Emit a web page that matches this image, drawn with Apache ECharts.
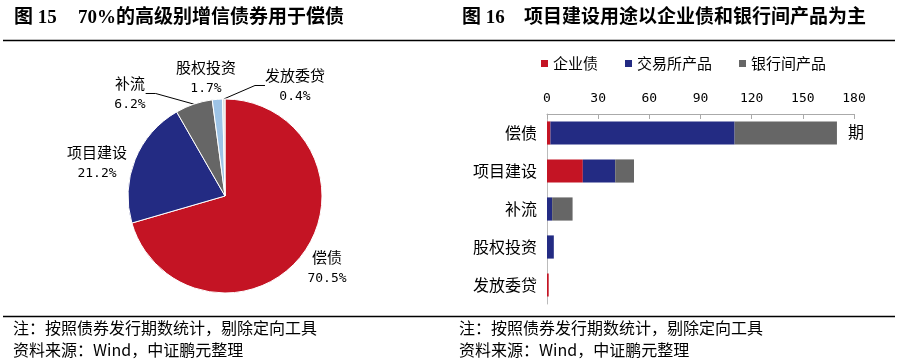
<!DOCTYPE html>
<html><head><meta charset="utf-8">
<script src="https://cdn.jsdelivr.net/npm/echarts@6/dist/echarts.min.js"></script>
<style>html,body{margin:0;padding:0;background:#fff}#c{width:898px;height:364px}</style>
</head><body><div id="c"></div>
<script>
// ---- data ----
const pieNames = ['偿债', '项目建设', '补流', '股权投资', '发放委贷'];
const pieShares = [70.5, 21.2, 6.2, 1.7, 0.4];
const barCategories = ['偿债', '项目建设', '补流', '股权投资', '发放委贷'];
const seriesNames = ['企业债', '交易所产品', '银行间产品'];
const enterpriseBond = [2, 21, 0, 0, 1];
const exchangeProduct = [108, 19, 3, 4, 0];
const interbankProduct = [60, 11, 12, 0, 0];
const xAxisMin = 0, xAxisMax = 180, xAxisStep = 30;
const leftTitleNo = '图 15', leftTitle = '70%的高级别增信债券用于偿债';
const rightTitleNo = '图 16', rightTitle = '项目建设用途以企业债和银行间产品为主';
const noteLine = '注：按照债券发行期数统计，剔除定向工具';
const sourceLine = '资料来源：Wind，中证鹏元整理';
const unitLabel = '期';

// ---- style ----
const RED = '#C41424', NAVY = '#232B83', GRAY = '#666666', LBLUE = '#9DC3E6', LGRAY = '#D9D9D9';
const pieColors = [RED, NAVY, GRAY, LBLUE, LGRAY];
const barColors = [RED, NAVY, GRAY];
const CJK = "'Noto Sans CJK SC', sans-serif";
const MONO = "'DejaVu Sans Mono', 'Noto Sans CJK SC', monospace";
const TITLEF = "'Liberation Serif', 'Noto Sans CJK SC', serif";
const labelPos = [[327, 268], [97, 163], [130, 94], [206, 78], [295, 86]];
const showLine = [false, false, true, false, true];

const chart = echarts.init(document.getElementById('c'), null, {renderer: 'canvas'});
const barData = [enterpriseBond, exchangeProduct, interbankProduct];

const option = {
  animation: false,
  backgroundColor: '#fff',
  legend: {
    data: seriesNames, left: 536, top: 51, itemWidth: 7, itemHeight: 7, itemGap: 27,
    icon: 'rect', textStyle: {fontSize: 15, fontFamily: CJK, color: '#000'}
  },
  grid: {left: 547, right: 44, top: 114, bottom: 60},
  xAxis: {
    type: 'value', position: 'top', min: xAxisMin, max: xAxisMax, interval: xAxisStep,
    axisLine: {show: true, lineStyle: {color: '#aaa'}},
    axisTick: {show: true, inside: true, length: 5, lineStyle: {color: '#aaa'}},
    splitLine: {show: false},
    axisLabel: {fontSize: 13, fontFamily: MONO, color: '#000', margin: 9}
  },
  yAxis: {
    type: 'category', inverse: true, data: barCategories, z: 0,
    axisLine: {show: true, lineStyle: {color: '#bbb', width: 1}},
    axisTick: {show: false},
    axisLabel: {fontSize: 16, fontFamily: CJK, color: '#000', margin: 10}
  },
  series: [
    {
      type: 'pie', center: [225, 196], radius: 97, startAngle: 90, clockwise: true,
      data: pieNames.map((n, i) => ({
        name: n, value: pieShares[i],
        itemStyle: {color: pieColors[i]},
        labelLine: {show: showLine[i]}
      })),
      itemStyle: {borderColor: '#fff', borderWidth: 1},
      label: {
        show: true, position: 'outside',
        formatter: p => '{n|' + p.name + '}\n{v|' + p.value.toFixed(1) + '%}',
        rich: {
          n: {fontSize: 15, fontFamily: CJK, color: '#000', lineHeight: 22, align: 'center'},
          v: {fontSize: 13, fontFamily: MONO, color: '#000', lineHeight: 22, align: 'center'}
        }
      },
      labelLine: {lineStyle: {color: '#000', width: 1}, length: 10, length2: 10},
      labelLayout: params => {
        const p = labelPos[params.dataIndex];
        return {x: p[0], y: p[1], align: 'center', verticalAlign: 'middle'};
      },
      emphasis: {disabled: true}
    }
  ].concat(seriesNames.map((s, k) => ({
    type: 'bar', name: s, stack: 'total', data: barData[k], barWidth: '61%', z: 5,
    itemStyle: {color: barColors[k], borderWidth: 0},
    emphasis: {disabled: true}
  }))),
  graphic: [
    {type: 'line', shape: {x1: 3, y1: 40.5, x2: 895, y2: 40.5}, style: {stroke: '#000', lineWidth: 1.5}},
    {type: 'line', shape: {x1: 3, y1: 316.5, x2: 895, y2: 316.5}, style: {stroke: '#000', lineWidth: 1.5}},
    {type: 'text', left: 14, top: 9, style: {text: leftTitleNo, font: 'bold 19px ' + TITLEF, fill: '#000'}},
    {type: 'text', left: 78, top: 9, style: {text: leftTitle, font: 'bold 19px ' + TITLEF, fill: '#000'}},
    {type: 'text', left: 462, top: 9, style: {text: rightTitleNo, font: 'bold 19px ' + TITLEF, fill: '#000'}},
    {type: 'text', left: 524, top: 9, style: {text: rightTitle, font: 'bold 19px ' + TITLEF, fill: '#000'}},
    {type: 'text', left: 13, top: 320, style: {text: noteLine, font: '16px ' + CJK, fill: '#000'}},
    {type: 'text', left: 13, top: 342, style: {text: sourceLine, font: '16px ' + CJK, fill: '#000'}},
    {type: 'text', left: 459, top: 320, style: {text: noteLine, font: '16px ' + CJK, fill: '#000'}},
    {type: 'text', left: 459, top: 342, style: {text: sourceLine, font: '16px ' + CJK, fill: '#000'}},
    {type: 'text', left: 848, top: 124, style: {text: unitLabel, font: '16px ' + CJK, fill: '#000'}}
  ]
};
chart.setOption(option);
</script></body></html>
